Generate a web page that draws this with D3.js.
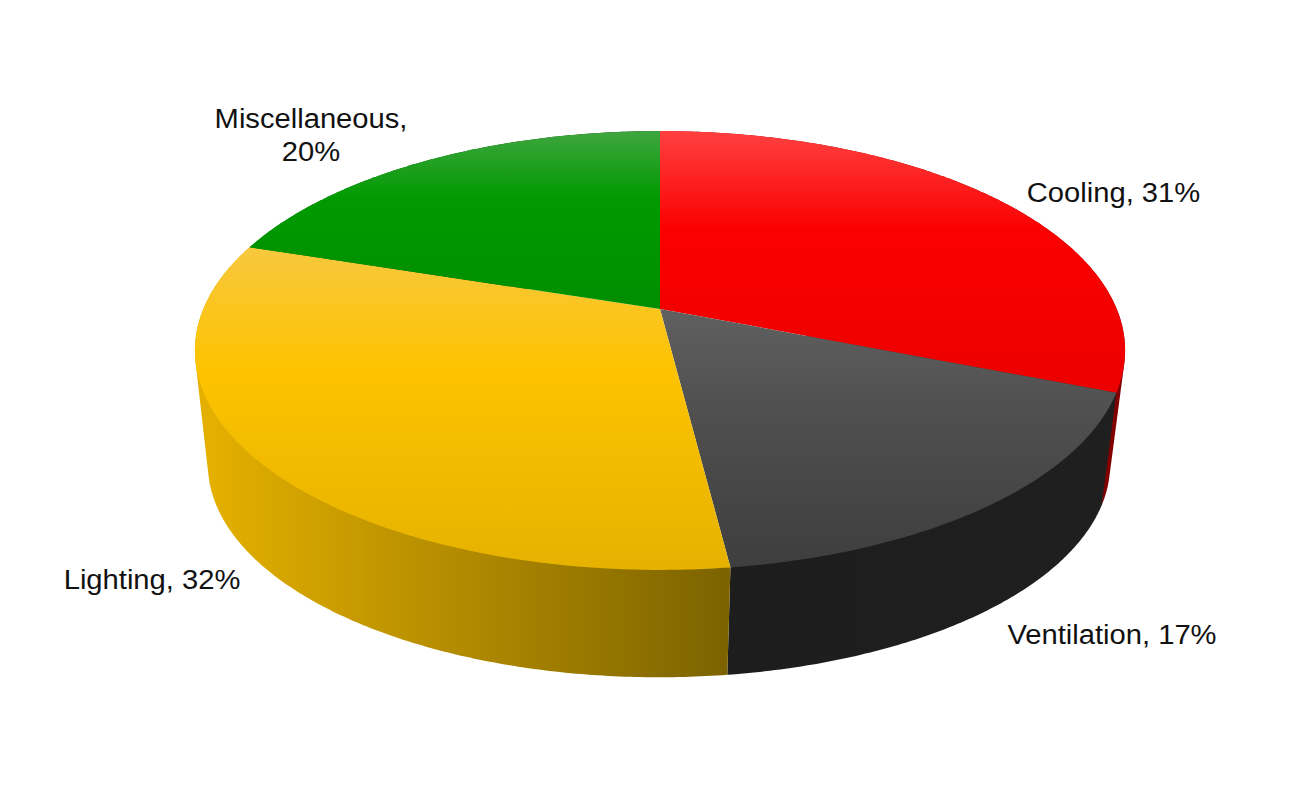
<!DOCTYPE html>
<html>
<head>
<meta charset="utf-8">
<title>Energy use</title>
<script src="https://cdn.jsdelivr.net/npm/d3@7"></script>
<style>
  html, body { margin: 0; padding: 0; background: #fff; }
  svg { display: block; }
  text { font-family: "Liberation Sans", Arial, sans-serif; font-size: 27px; fill: #111; }
</style>
</head>
<body>
<svg id="chart" width="1296" height="800"></svg>
<script>
var categories = ['Cooling', 'Ventilation', 'Lighting', 'Miscellaneous'];
var shares = [31, 17, 32, 20];

// face colours per slice: top of the face, middle, bottom
var faceLight = ['#ff4040', '#606060', '#f8c83e', '#3fa53f'];
var faceMid = ['#fb0000', '#505050', '#fdc300', '#009a00'];
var faceDark = ['#ec0000', '#3e3e3e', '#e6b200', '#008e00'];
// wall colours, left to right
var wallLeft = ['#c00000', '#1d1d1d', '#e4b000', '#007000'];
var wallRight = ['#800000', '#1f1f1f', '#7c6300', '#004000'];

var svg = d3.select('#chart');
var defs = svg.append('defs');

// tilted disc: the pie is seen in perspective so the centre sits above the middle of the ellipse
var tilt = 0.189;
var topDisc = { x: 660, y: 309, a: 456.7, b: 211.6 };
var baseDisc = { x: 659, y: 424, a: 443, b: 205.4 };

function project(disc, angle) {
	var u = Math.sin(angle), v = -Math.cos(angle);
	var w = 1 - tilt * v;
	return [disc.x + disc.a * u / w, disc.y + disc.b * v / w];
}

function arcPoints(disc, a0, a1) {
	var n = Math.max(2, Math.ceil((a1 - a0) / 0.01));
	return d3.range(n + 1).map(function(i) {
		return project(disc, a0 + (a1 - a0) * i / n);
	});
}

var slices = d3.pie().sort(null).startAngle(0).endAngle(Math.PI * 2)(shares);
var line = d3.line();

slices.forEach(function(s, i) {
	// shading follows each slice's own box, not the whole disc
	var f = defs.append('linearGradient').attr('id', 'face' + i)
		.attr('x1', 0).attr('x2', 0).attr('y1', 0).attr('y2', 1);
	f.append('stop').attr('offset', 0).attr('stop-color', faceLight[i]);
	f.append('stop').attr('offset', 0.38).attr('stop-color', faceMid[i]);
	f.append('stop').attr('offset', 1).attr('stop-color', faceDark[i]);

	var w = defs.append('linearGradient').attr('id', 'wall' + i)
		.attr('gradientUnits', 'userSpaceOnUse')
		.attr('y1', 0).attr('y2', 0);
	var pts = arcPoints(baseDisc, s.startAngle, s.endAngle);
	w.attr('x1', d3.min(pts, function(p) { return p[0]; }))
		.attr('x2', d3.max(pts, function(p) { return p[0]; }));
	w.append('stop').attr('offset', 0).attr('stop-color', wallLeft[i]);
	w.append('stop').attr('offset', 1).attr('stop-color', wallRight[i]);
});

// walls first, back ones before front ones, then the top faces over them
var wallOrder = [0, 3, 1, 2];
svg.selectAll('path.wall').data(wallOrder).enter().append('path')
	.attr('class', 'wall')
	.attr('fill', function(i) { return 'url(#wall' + i + ')'; })
	.attr('d', function(i) {
		var s = slices[i];
		var hull = d3.polygonHull(arcPoints(topDisc, s.startAngle, s.endAngle)
			.concat(arcPoints(baseDisc, s.startAngle, s.endAngle)));
		return line(hull) + 'Z';
	});

svg.selectAll('path.face').data(slices).enter().append('path')
	.attr('class', 'face')
	.attr('fill', function(s, i) { return 'url(#face' + i + ')'; })
	.attr('d', function(s) {
		var pts = arcPoints(topDisc, s.startAngle, s.endAngle);
		pts.unshift([topDisc.x, topDisc.y]);
		return line(pts) + 'Z';
	});

// labels: centre x and first baseline, slightly stretched like the picture
var labelX = [1113.5, 1112, 152, 311];
var labelY = [202, 644, 589, 128];
var stretch = 1.08;

svg.selectAll('g.label').data(categories).enter().append('g')
	.attr('class', 'label')
	.attr('transform', function(c, i) {
		return 'translate(' + labelX[i] + ',' + labelY[i] + ') scale(' + stretch + ',1)';
	})
	.each(function(c, i) {
		var g = d3.select(this);
		var t = g.append('text').attr('text-anchor', 'middle');
		// the long name breaks after the comma
		if (c.length > 12) {
			t.append('tspan').attr('x', 0).text(c + ',');
			t.append('tspan').attr('x', 0).attr('dy', 33).text(shares[i] + '%');
		} else {
			t.text(c + ', ' + shares[i] + '%');
		}
	});
</script>
</body>
</html>
